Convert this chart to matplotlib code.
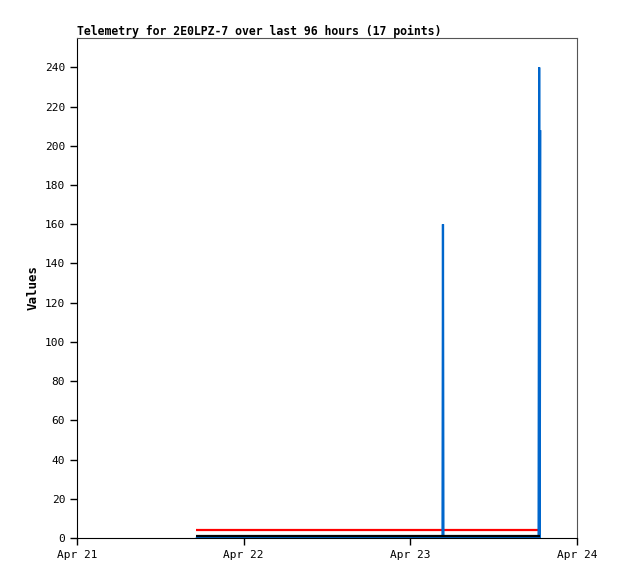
import matplotlib
matplotlib.use("Agg")
import matplotlib.pyplot as plt
import matplotlib.dates as mdates
import pandas as pd

plt.rcParams['font.family'] = ['DejaVu Sans Mono']

# 17 telemetry points
times = pd.to_datetime([
    "2024-04-21 17:06", "2024-04-21 21:00", "2024-04-22 01:00", "2024-04-22 05:00",
    "2024-04-22 09:00", "2024-04-22 13:00", "2024-04-22 17:00", "2024-04-22 21:00",
    "2024-04-23 01:00", "2024-04-23 04:38", "2024-04-23 04:42", "2024-04-23 04:46",
    "2024-04-23 12:00", "2024-04-23 18:28", "2024-04-23 18:33", "2024-04-23 18:38",
    "2024-04-23 18:43",
])
red_vals = [4] * 17
black_vals = [1] * 17
blue_vals = [0, 0, 0, 0, 0, 0, 0, 0, 0, 0, 160, 0, 0, 0, 240, 0, 208]

fig = plt.figure(figsize=(6.18, 5.79), dpi=100)
ax = fig.add_axes([77 / 618, 41 / 579, 500 / 618, 500 / 579])

style = dict(lw=1.6, solid_capstyle="butt", solid_joinstyle="miter")
ax.plot(times, red_vals, color="#ff0000", **style)
ax.plot(times, blue_vals, color="#0066cc", **style)
ax.plot(times, black_vals, color="#000000", **style)

ax.set_xlim(pd.Timestamp("2024-04-21"), pd.Timestamp("2024-04-24"))
ax.set_ylim(0, 255)
ax.set_yticks(range(0, 241, 20))
ax.xaxis.set_major_locator(mdates.DayLocator())
ax.xaxis.set_major_formatter(mdates.DateFormatter("%b %d"))

ax.tick_params(labelsize=8, length=5, width=1, color="black")
for s in ["top", "right"]:
    ax.spines[s].set_color("#555555")

ax.set_ylabel("Values", fontsize=9, fontweight="bold")
fig.text(77 / 618, 1 - 31 / 579, "Telemetry for 2E0LPZ-7 over last 96 hours (17 points)",
         fontsize=8.3, fontweight="bold", va="center", ha="left")

fig.savefig("out.png", dpi=100)
